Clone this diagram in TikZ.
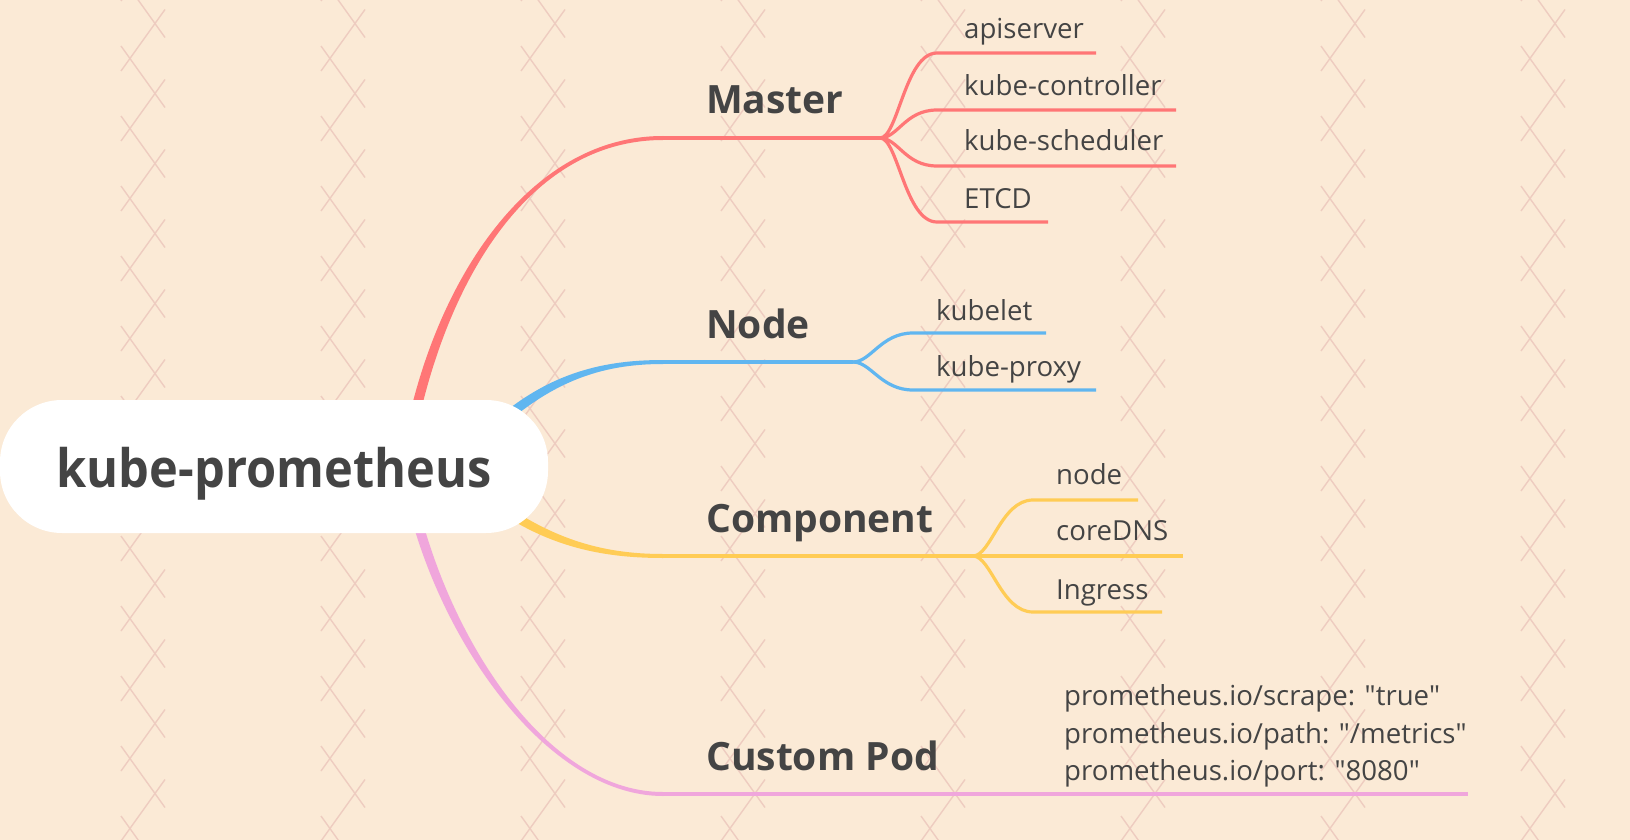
\documentclass[tikz,border=0pt]{standalone}
\usepackage{fontspec}
\setmainfont{Open Sans}
\newfontfamily\hubfont{Open Sans}[FakeStretch=0.92]
\usepackage{xcolor}
\usepackage{tikz}

\definecolor{bgc}{RGB}{251,234,214}
\definecolor{crossc}{RGB}{238,204,192}
\definecolor{masterc}{RGB}{255,118,118}
\definecolor{nodec}{RGB}{96,182,240}
\definecolor{compc}{RGB}{255,204,85}
\definecolor{podc}{RGB}{240,166,220}
\definecolor{txtc}{RGB}{68,68,68}

\tikzset{
	hub/.style={fill=white, rounded corners=62pt, minimum width=548pt, minimum height=133pt, inner sep=0pt, text height=44pt, text depth=3pt, text=txtc, font=\hubfont\fontsize{53}{60}\selectfont\bfseries},
	topic/.style={anchor=base west, inner sep=0pt, text=txtc, font=\fontsize{39}{46}\selectfont\bfseries},
	leaf/.style={anchor=base west, inner sep=0pt, text=txtc, font=\fontsize{27.6}{34}\selectfont},
	limb/.style={line width=4pt},
	twig/.style={line width=3.2pt},
	crossline/.style={crossc, line width=1.4pt},
}

\begin{document}
\begin{tikzpicture}[x=1pt,y=-1pt]
		
		\useasboundingbox (0,0) rectangle (1630,840);
		\clip (0,0) rectangle (1630,840);
		%Shape: Rectangle [background]
		\fill[bgc] (0,0) rectangle (1630,840);
		%Straight Lines [cross pattern]
		\foreach \cx in {121,321,...,1521}
			\foreach \k in {-1,...,12}{
				\draw[crossline] ({\cx+44},{9.5+70*\k}) -- ({\cx},{71+70*\k});
				\draw[crossline] ({\cx},{46+70*\k}) -- ({\cx+44},{107.5+70*\k});
			}
		
		% Branch points
		\coordinate (hubO) at (405,466);
		\coordinate (hubN) at (485,436);
		\coordinate (hubC) at (485,496);
		\coordinate (mS) at (663,138);
		\coordinate (mF) at (880,138);
		\coordinate (nS) at (663,362);
		\coordinate (nF) at (853,362);
		\coordinate (cS) at (663,556);
		\coordinate (cF) at (973,556);
		\coordinate (pS) at (663,794);
		\coordinate (pE) at (1468,794);
		
		%Curve Lines [Master]
		\fill[masterc] ([xshift=-5pt]hubO) .. controls (424,300) and (520,136) .. ([yshift=2pt]mS) -- ([yshift=-2pt]mS) .. controls (520,140) and (436,300) .. ([xshift=5pt]hubO) -- cycle;
		\draw[masterc, limb] (mS) -- (mF);
		%Curve Lines [Node]
		\fill[nodec] ([xshift=-3.5pt,yshift=3.5pt]hubN) .. controls (542,374) and (600,360) .. ([yshift=2pt]nS) -- ([yshift=-2pt]nS) .. controls (600,364) and (548,382) .. ([xshift=3.5pt,yshift=-3.5pt]hubN) -- cycle;
		\draw[nodec, limb] (nS) -- (nF);
		%Curve Lines [Component]
		\fill[compc] ([xshift=3pt,yshift=3.5pt]hubC) .. controls (548,538) and (600,554) .. ([yshift=2pt]cS) -- ([yshift=-2pt]cS) .. controls (600,558) and (542,546) .. ([xshift=-3pt,yshift=-3.5pt]hubC) -- cycle;
		\draw[compc, limb] (cS) -- (cF);
		%Curve Lines [Custom Pod]
		\fill[podc] ([xshift=-5pt]hubO) .. controls (424,620) and (540,796) .. ([yshift=-2pt]pS) -- ([yshift=2pt]pS) .. controls (540,792) and (436,620) .. ([xshift=5pt]hubO) -- cycle;
		\draw[podc, limb] (pS) -- (pE);
		
		% Leaf ends
		\coordinate (m1) at (937,53);
		\coordinate (m1e) at (1096,53);
		\coordinate (m2) at (937,110);
		\coordinate (m2e) at (1176,110);
		\coordinate (m3) at (937,166);
		\coordinate (m3e) at (1176,166);
		\coordinate (m4) at (937,222);
		\coordinate (m4e) at (1048,222);
		\coordinate (n1) at (913,333);
		\coordinate (n1e) at (1046,333);
		\coordinate (n2) at (913,390);
		\coordinate (n2e) at (1096,390);
		\coordinate (c1) at (1033,500);
		\coordinate (c1e) at (1138,500);
		\coordinate (c2e) at (1183,556);
		\coordinate (c3) at (1033,612);
		\coordinate (c3e) at (1162,612);
		
		%Curve Lines [Master leaves]
		\draw[masterc, twig] (mF) .. controls +(18,0) and +(-32,0) .. (m1) -- (m1e);
		\draw[masterc, twig] (mF) .. controls +(18,0) and +(-32,0) .. (m2) -- (m2e);
		\draw[masterc, twig] (mF) .. controls +(18,0) and +(-32,0) .. (m3) -- (m3e);
		\draw[masterc, twig] (mF) .. controls +(18,0) and +(-32,0) .. (m4) -- (m4e);
		%Curve Lines [Node leaves]
		\draw[nodec, twig] (nF) .. controls +(18,0) and +(-32,0) .. (n1) -- (n1e);
		\draw[nodec, twig] (nF) .. controls +(18,0) and +(-32,0) .. (n2) -- (n2e);
		%Curve Lines [Component leaves]
		\draw[compc, twig] (cF) .. controls +(18,0) and +(-32,0) .. (c1) -- (c1e);
		\draw[compc, twig] (cF) -- (c2e);
		\draw[compc, twig] (cF) .. controls +(18,0) and +(-32,0) .. (c3) -- (c3e);
		
		%Shape: Rounded Rect [root]
		\node[hub] (root) at (274,466.5) {kube-prometheus};
		
		% Text Node
		\node[topic] (master) at (706,114) {Master};
		% Text Node
		\node[topic] (node) at (706,338) {Node};
		% Text Node
		\node[topic] (component) at (706,532) {Component};
		% Text Node
		\node[topic] (custompod) at (706,770) {Custom Pod};
		
		% Text Node
		\node[leaf] (apiserver) at (964,39) {apiserver};
		% Text Node
		\node[leaf] (controller) at (964,96) {kube-controller};
		% Text Node
		\node[leaf] (scheduler) at (964,150) {kube-scheduler};
		% Text Node
		\node[leaf] (etcd) at (964,208) {ETCD};
		% Text Node
		\node[leaf] (kubelet) at (936,320) {kubelet};
		% Text Node
		\node[leaf] (proxy) at (936,376) {kube-proxy};
		% Text Node
		\node[leaf] (nodeexp) at (1056,484) {node};
		% Text Node
		\node[leaf] (coredns) at (1056,540) {coreDNS};
		% Text Node
		\node[leaf] (ingress) at (1056,599) {Ingress};
		% Text Node
		\node[leaf] (scrape) at (1064,705) {prometheus.io/scrape: \textquotedbl true\textquotedbl};
		% Text Node
		\node[leaf] (path) at (1064,743) {prometheus.io/path: \textquotedbl/metrics\textquotedbl};
		% Text Node
		\node[leaf] (port) at (1064,780) {prometheus.io/port: \textquotedbl 8080\textquotedbl};
		
\end{tikzpicture}
\end{document}
